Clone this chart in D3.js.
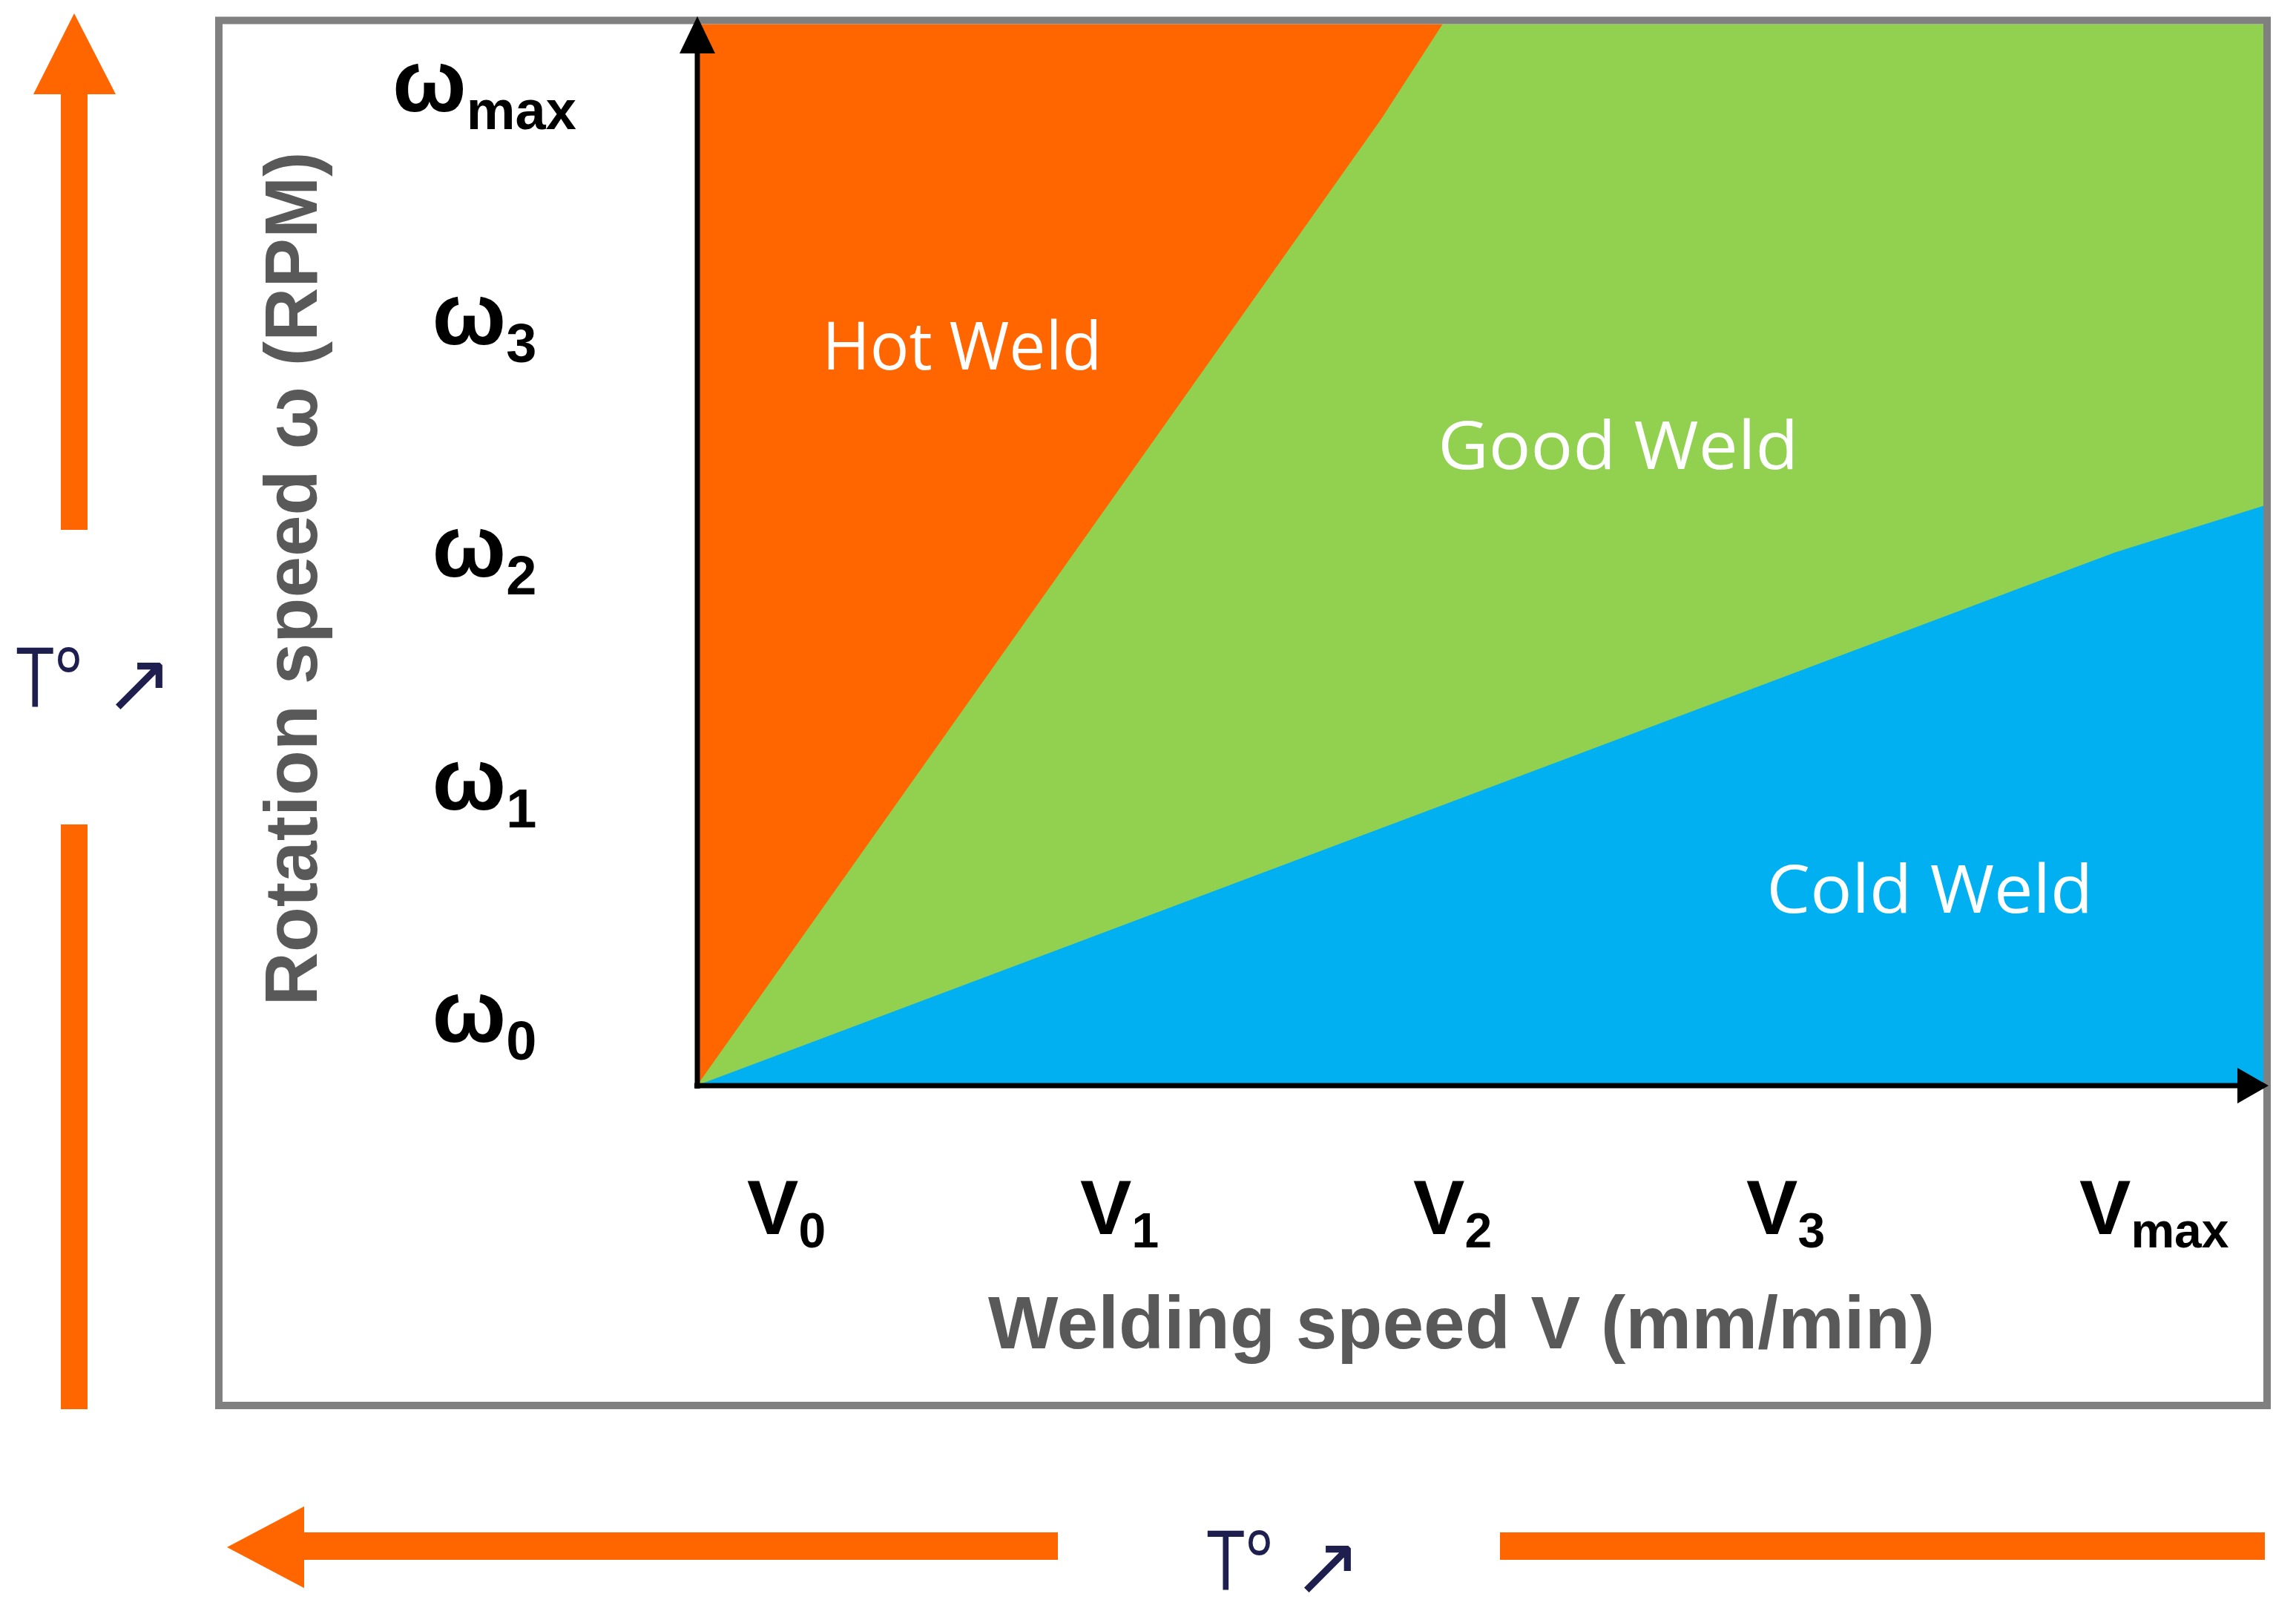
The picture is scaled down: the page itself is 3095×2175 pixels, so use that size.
<!DOCTYPE html>
<html>
<head>
<meta charset="utf-8">
<script src="https://cdn.jsdelivr.net/npm/d3@7"></script>
<style>
  html, body { margin: 0; padding: 0; background: #ffffff; }
  svg { display: block; }
</style>
</head>
<body>
<div id="chart"></div>
<script>
// ---------------- DATA ----------------
// Tick labels (main symbol + subscript)
const vTickSubs = ["0", "1", "2", "3", "max"];     // V0 .. Vmax
const wTickSubs = ["0", "1", "2", "3", "max"];     // ω0 .. ωmax
// Regions, in normalised axis units (0..1 welding speed, 0..1 rotation speed)
const regionNames  = ["Hot Weld", "Good Weld", "Cold Weld"];
const regionColors = ["#FF6600", "#92D050", "#00B0F0"];
const hotGoodBoundary  = [[0, 0], [0.437, 0.911], [0.476, 1]];
const goodColdBoundary = [[0, 0], [0.905, 0.502], [1, 0.546]];
// Region label anchors (normalised units)
const regionLabelX = [0.169, 0.588, 0.787];
const regionLabelY = [0.675, 0.581, 0.163];
const regionLabelLen = [377, 486, 440];
const xAxisTitle = "Welding speed V (mm/min)";
const yAxisTitle = "Rotation speed ω (RPM)";
const tempLabel = "T°";

// ---------------- LAYOUT ----------------
const W = 3095, H = 2175;
const svg = d3.select("#chart").append("svg")
  .attr("width", W).attr("height", H)
  .attr("viewBox", `0 0 ${W} ${H}`);
svg.append("rect").attr("width", W).attr("height", H).attr("fill", "#fff");

const plot = { left: 940, right: 3051, top: 33, bottom: 1463 };
const x = d3.scaleLinear().domain([0, 1]).range([plot.left, plot.right]);
const y = d3.scaleLinear().domain([0, 1]).range([plot.bottom, plot.top]);

const vPos = d3.scalePoint().domain(vTickSubs).range([1007, 2803]);
const wPos = d3.scalePoint().domain(wTickSubs).range([1404, 150]);

const line = d3.line().x(d => x(d[0])).y(d => y(d[1]));

// ---------------- REGIONS ----------------
const hotPoly  = [...hotGoodBoundary, [0, 1]];
const goodPoly = [...hotGoodBoundary, [1, 1], ...goodColdBoundary.slice().reverse()];
const coldPoly = [...goodColdBoundary, [1, 0]];
const polys = [hotPoly, goodPoly, coldPoly];

svg.append("g").selectAll("path").data(polys).join("path")
  .attr("d", d => line(d) + "Z")
  .attr("fill", (d, i) => regionColors[i])
  .attr("stroke", (d, i) => regionColors[i])
  .attr("stroke-width", 1);

svg.append("g").selectAll("text").data(regionNames).join("text")
  .attr("x", (d, i) => x(regionLabelX[i]))
  .attr("y", (d, i) => y(regionLabelY[i]))
  .attr("text-anchor", "middle")
  .attr("font-family", "'Open Sans', 'Noto Sans', sans-serif")
  .attr("font-size", 90)
  .attr("fill", "#ffffff")
  .attr("textLength", (d, i) => regionLabelLen[i])
  .attr("lengthAdjust", "spacingAndGlyphs")
  .text(d => d);

// ---------------- OUTER FRAME ----------------
svg.append("rect")
  .attr("x", 295).attr("y", 27.5)
  .attr("width", 3056 - 295).attr("height", 1894 - 27.5)
  .attr("fill", "none").attr("stroke", "#808080").attr("stroke-width", 10);

// ---------------- AXES ----------------
const axisG = svg.append("g");
// y axis
axisG.append("line")
  .attr("x1", x(0)).attr("x2", x(0))
  .attr("y1", y(0) + 4).attr("y2", 70)
  .attr("stroke", "#000").attr("stroke-width", 7);
axisG.append("path")
  .attr("d", `M${x(0)},22 L${x(0) - 24},72 L${x(0) + 24},72 Z`)
  .attr("fill", "#000");
// x axis
axisG.append("line")
  .attr("x1", x(0) - 4).attr("x2", 3018)
  .attr("y1", y(0)).attr("y2", y(0))
  .attr("stroke", "#000").attr("stroke-width", 7);
axisG.append("path")
  .attr("d", `M3058,${y(0)} L3016,${y(0) - 24} L3016,${y(0) + 24} Z`)
  .attr("fill", "#000");

// ---------------- TICK LABELS ----------------
const vt = svg.append("g").selectAll("text").data(vTickSubs).join("text")
  .attr("x", d => vPos(d))
  .attr("y", 1663)
  .attr("font-family", "'Liberation Sans', Arial, sans-serif")
  .attr("font-weight", "bold")
  .attr("font-size", 104)
  .attr("fill", "#000");
vt.append("tspan").text("V");
vt.append("tspan").attr("font-size", 66).attr("dy", 18).text(d => d);

const wt = svg.append("g").selectAll("text").data(wTickSubs).join("text")
  .attr("x", 653)
  .attr("y", d => wPos(d))
  .attr("text-anchor", "middle")
  .attr("font-family", "'Liberation Sans', Arial, sans-serif")
  .attr("font-weight", "bold")
  .attr("font-size", 118)
  .attr("fill", "#000");
wt.append("tspan").text("ω");
wt.append("tspan").attr("font-size", 74).attr("dy", 24).text(d => d);

// ---------------- AXIS TITLES ----------------
svg.append("text")
  .attr("x", 1970).attr("y", 1817)
  .attr("text-anchor", "middle")
  .attr("font-family", "'Liberation Sans', Arial, sans-serif")
  .attr("font-weight", "bold")
  .attr("font-size", 100)
  .attr("fill", "#595959")
  .text(xAxisTitle);

svg.append("text")
  .attr("transform", "translate(427,780) rotate(-90)")
  .attr("text-anchor", "middle")
  .attr("font-family", "'Liberation Sans', Arial, sans-serif")
  .attr("font-weight", "bold")
  .attr("font-size", 100)
  .attr("fill", "#595959")
  .text(yAxisTitle);

// ---------------- TEMPERATURE ARROWS ----------------
const orange = "#FF6600";
const tg = svg.append("g").attr("fill", orange);
// left vertical arrow (pointing up)
tg.append("path").attr("d", "M100,18 L156,127 L45,127 Z");
tg.append("rect").attr("x", 82).attr("y", 126).attr("width", 36).attr("height", 714 - 126);
tg.append("rect").attr("x", 82).attr("y", 1111).attr("width", 36).attr("height", 1899 - 1111);
// bottom horizontal arrow (pointing left)
tg.append("path").attr("d", "M306,2085 L410,2030 L410,2140 Z");
tg.append("rect").attr("x", 409).attr("y", 2065).attr("width", 1426 - 409).attr("height", 37);
tg.append("rect").attr("x", 2022).attr("y", 2065).attr("width", 3053 - 2022).attr("height", 37);

function tempText(tx, ty, ax) {
  svg.append("text")
    .attr("x", tx).attr("y", ty)
    .attr("font-family", "'Open Sans', 'Noto Sans', sans-serif")
    .attr("font-size", 112)
    .attr("fill", "#1F1F4F")
    .attr("textLength", 90)
    .attr("lengthAdjust", "spacingAndGlyphs")
    .text(tempLabel);
  svg.append("text")
    .attr("x", ax).attr("y", ty + 6)
    .attr("font-family", "'DejaVu Sans', sans-serif")
    .attr("font-size", 112)
    .attr("fill", "#1F1F4F")
    .text("↗");
}
tempText(22, 953, 140);
tempText(1627, 2143, 1742);
</script>
</body>
</html>
